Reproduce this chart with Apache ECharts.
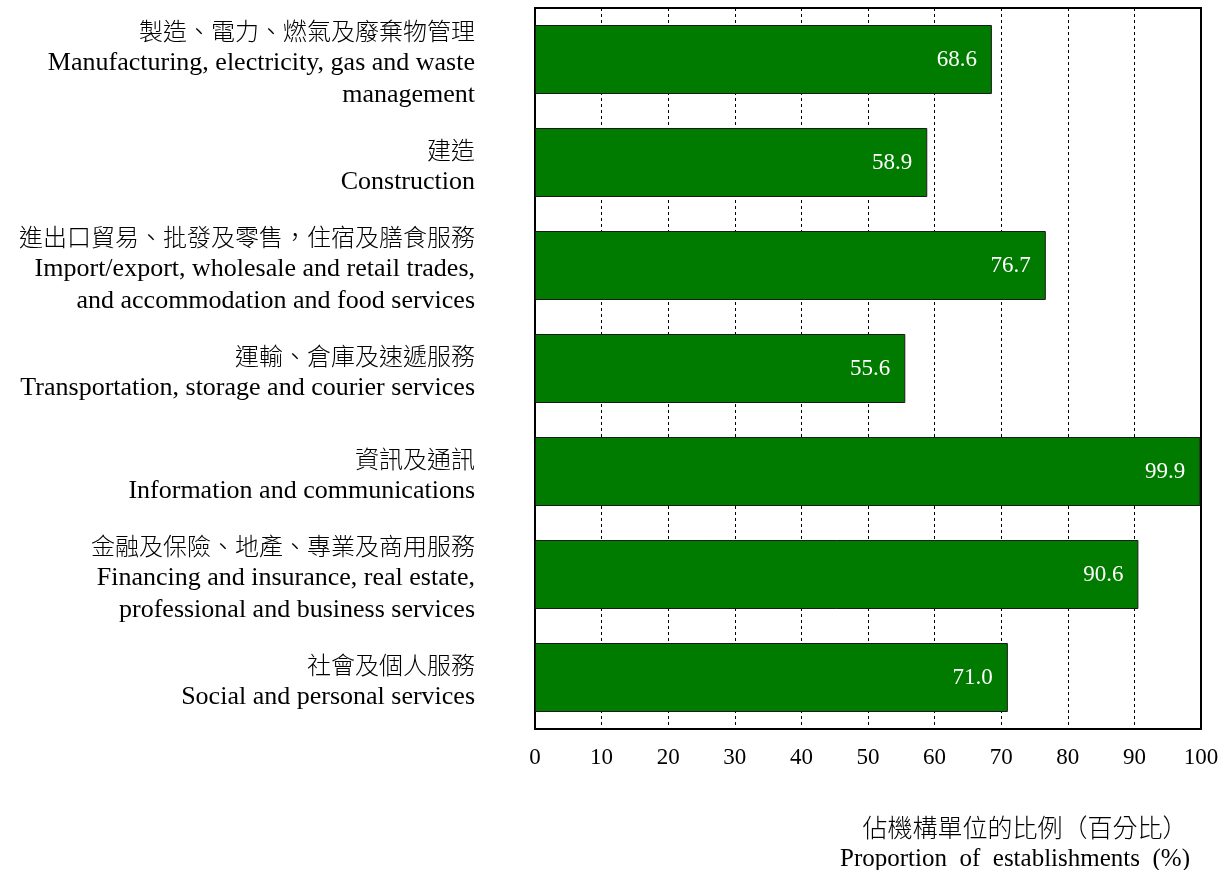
<!DOCTYPE html>
<html>
<head>
<meta charset="utf-8">
<script src="https://cdn.jsdelivr.net/npm/echarts@6/dist/echarts.min.js"></script>
<style>
  html, body { margin: 0; padding: 0; background: #fff; }
  #chart { width: 1227px; height: 870px; }
</style>
</head>
<body>
<div id="chart"></div>
<script>
// Industry sections: Chinese name and English name (English pre-wrapped)
const categoriesZh = [
  '製造、電力、燃氣及廢棄物管理',
  '建造',
  '進出口貿易、批發及零售，住宿及膳食服務',
  '運輸、倉庫及速遞服務',
  '資訊及通訊',
  '金融及保險、地產、專業及商用服務',
  '社會及個人服務'
];
const categoriesEn = [
  ['Manufacturing, electricity, gas and waste', 'management'],
  ['Construction'],
  ['Import/export, wholesale and retail trades,', 'and accommodation and food services'],
  ['Transportation, storage and courier services'],
  ['Information and communications'],
  ['Financing and insurance, real estate,', 'professional and business services'],
  ['Social and personal services']
];
// Proportion of establishments (%)
const values = [68.6, 58.9, 76.7, 55.6, 99.9, 90.6, 71.0];
const axisTitleZh = '佔機構單位的比例（百分比）';
const axisTitleEn = 'Proportion  of  establishments  (%)';

const SERIF = "'Liberation Serif', 'Times New Roman', serif";
const CJK = "'Noto Sans CJK TC', 'Liberation Serif', sans-serif";

// Category label text with rich-text tags per line
const categories = categoriesZh.map((zh, i) =>
  ['{zh|' + zh + '}'].concat(categoriesEn[i].map(s => '{en|' + s + '}')).join('\n')
);

const chart = echarts.init(document.getElementById('chart'));
chart.setOption({
  animation: false,
  grid: {
    left: 535, right: 26, top: 8, bottom: 141,
    show: true, borderColor: '#000', borderWidth: 2, backgroundColor: 'transparent'
  },
  xAxis: {
    type: 'value', min: 0, max: 100, interval: 10,
    axisLine: { show: false },
    axisTick: { show: false },
    axisLabel: { color: '#000', fontFamily: SERIF, fontSize: 23, margin: 17 },
    splitLine: { show: true, lineStyle: { color: '#000', type: [3, 3], width: 1 } }
  },
  yAxis: {
    type: 'category', data: categories, inverse: true,
    axisLine: { show: true, lineStyle: { color: '#000', width: 2 } },
    axisTick: { show: false },
    axisLabel: {
      margin: 60, align: 'right', padding: [6, 0, 0, 0],
      rich: {
        zh: { fontFamily: CJK, fontSize: 24, lineHeight: 33, color: '#000', fontWeight: 300 },
        en: { fontFamily: SERIF, fontSize: 26, lineHeight: 31.5, color: '#000' }
      }
    }
  },
  series: [{
    type: 'bar',
    data: values,
    barCategoryGap: '33%',
    itemStyle: { color: '#007b00', borderColor: '#1a1a1a', borderWidth: 1 },
    label: {
      show: true, position: 'insideRight', distance: 15,
      color: '#fff', fontFamily: SERIF, fontSize: 23,
      formatter: p => p.value.toFixed(1)
    }
  }],
  graphic: [
    {
      type: 'text', x: 1025, y: 827,
      style: {
        text: axisTitleZh, align: 'center', verticalAlign: 'middle',
        font: '300 25px ' + CJK, fill: '#000'
      }
    },
    {
      type: 'text', x: 1015, y: 859,
      style: {
        text: axisTitleEn, align: 'center', verticalAlign: 'middle',
        font: '25px ' + SERIF, fill: '#000'
      }
    }
  ]
});
</script>
</body>
</html>
